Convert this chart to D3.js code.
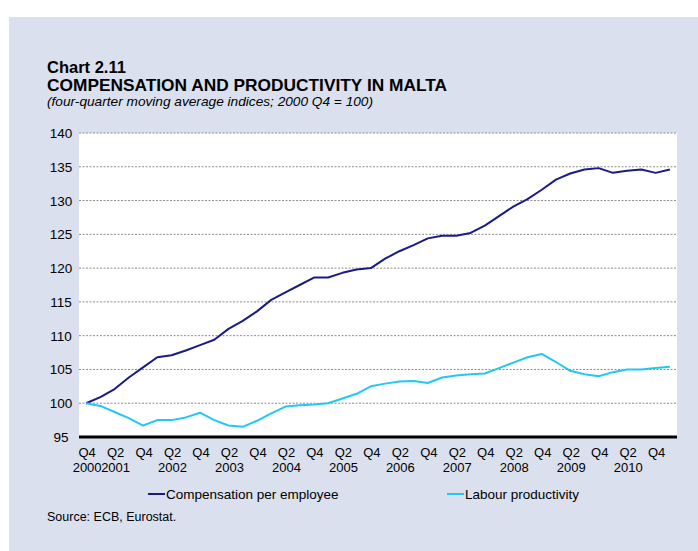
<!DOCTYPE html>
<html>
<head>
<meta charset="utf-8">
<script src="https://cdn.jsdelivr.net/npm/d3@7"></script>
<style>
  html, body { margin: 0; padding: 0; background: #ffffff; }
  svg { display: block; font-family: "Liberation Sans", Arial, sans-serif; }
</style>
</head>
<body>
<svg id="chart" width="698" height="551"></svg>
<script>
// quarters 2000 Q4 .. 2011 Q1
const quarters = [
  "2000Q4",
  "2001Q1", "2001Q2", "2001Q3", "2001Q4",
  "2002Q1", "2002Q2", "2002Q3", "2002Q4",
  "2003Q1", "2003Q2", "2003Q3", "2003Q4",
  "2004Q1", "2004Q2", "2004Q3", "2004Q4",
  "2005Q1", "2005Q2", "2005Q3", "2005Q4",
  "2006Q1", "2006Q2", "2006Q3", "2006Q4",
  "2007Q1", "2007Q2", "2007Q3", "2007Q4",
  "2008Q1", "2008Q2", "2008Q3", "2008Q4",
  "2009Q1", "2009Q2", "2009Q3", "2009Q4",
  "2010Q1", "2010Q2", "2010Q3", "2010Q4",
  "2011Q1"
];

const compensation = [
  100.0, 100.9, 102.1, 103.8, 105.3, 106.8, 107.1, 107.8, 108.6, 109.4,
  111.0, 112.2, 113.6, 115.3, 116.4, 117.5, 118.6, 118.6, 119.3, 119.8,
  120.0, 121.4, 122.5, 123.4, 124.4, 124.8, 124.8, 125.2, 126.3, 127.7,
  129.1, 130.2, 131.6, 133.1, 134.0, 134.6, 134.8, 134.1, 134.4, 134.6,
  134.1, 134.6
];

const productivity = [
  100.0, 99.6, 98.7, 97.8, 96.7, 97.5, 97.5, 97.9, 98.6, 97.5,
  96.7, 96.5, 97.4, 98.5, 99.5, 99.7, 99.8, 100.0, 100.7, 101.4,
  102.5, 102.9, 103.2, 103.3, 103.0, 103.8, 104.1, 104.3, 104.4, 105.2,
  106.0, 106.8, 107.3, 106.1, 104.8, 104.3, 104.0, 104.6, 105.0, 105.0,
  105.2, 105.4
];

const yTicks = [95, 100, 105, 110, 115, 120, 125, 130, 135, 140];

// x tick labels: quarter label + year label (shown under every other quarter)
const xTickQuarters = [
  "2000Q4", "2001Q2", "2001Q4", "2002Q2", "2002Q4", "2003Q2", "2003Q4",
  "2004Q2", "2004Q4", "2005Q2", "2005Q4", "2006Q2", "2006Q4", "2007Q2",
  "2007Q4", "2008Q2", "2008Q4", "2009Q2", "2009Q4", "2010Q2", "2010Q4"
];
const xTickYears = {
  "2000Q4": "2000", "2001Q2": "2001", "2002Q2": "2002", "2003Q2": "2003",
  "2004Q2": "2004", "2005Q2": "2005", "2006Q2": "2006", "2007Q2": "2007",
  "2008Q2": "2008", "2009Q2": "2009", "2010Q2": "2010"
};

const seriesNames = ["Compensation per employee", "Labour productivity"];
const seriesColors = ["#1b1b87", "#22c8f2"];

class MaltaChart {
  constructor() {
    this.width = 698;
    this.height = 551;
    this.bgColor = "#dae0ed";
    this.plot = { left: 79, right: 677, top: 133, bottom: 437 };
  }

  draw() {
    const svg = d3.select("#chart");
    const p = this.plot;

    // panel
    svg.append("rect")
      .attr("x", 9).attr("y", 17)
      .attr("width", this.width - 9).attr("height", this.height - 17)
      .attr("fill", this.bgColor);

    // titles
    svg.append("text").attr("x", 47).attr("y", 73)
      .attr("font-size", 16.5).attr("font-weight", "bold").attr("fill", "#000")
      .text("Chart 2.11");
    svg.append("text").attr("x", 47).attr("y", 91)
      .attr("font-size", 16.5).attr("font-weight", "bold").attr("fill", "#000")
      .attr("textLength", 400).attr("lengthAdjust", "spacingAndGlyphs")
      .text("COMPENSATION AND PRODUCTIVITY IN MALTA");
    svg.append("text").attr("x", 47).attr("y", 106)
      .attr("font-size", 13.5).attr("font-style", "italic").attr("fill", "#000")
      .attr("textLength", 326).attr("lengthAdjust", "spacingAndGlyphs")
      .text("(four-quarter moving average indices; 2000 Q4 = 100)");

    // plot area
    svg.append("rect")
      .attr("x", p.left).attr("y", p.top)
      .attr("width", p.right - p.left).attr("height", p.bottom - p.top)
      .attr("fill", "#ffffff");

    const x = d3.scaleBand().domain(quarters).range([p.left, p.right]);
    const y = d3.scaleLinear().domain([95, 140]).range([p.bottom, p.top]);
    const cx = (q) => x(q) + x.bandwidth() / 2;

    // gridlines
    svg.append("g")
      .selectAll("line")
      .data(yTicks.filter((t) => t > 95))
      .enter().append("line")
      .attr("x1", p.left).attr("x2", p.right)
      .attr("y1", (d) => y(d)).attr("y2", (d) => y(d))
      .attr("stroke", "#8c8c8c").attr("stroke-width", 1)
      .attr("stroke-dasharray", "2,1.5");

    // y labels (centred)
    svg.append("g")
      .selectAll("text")
      .data(yTicks)
      .enter().append("text")
      .attr("x", 61).attr("y", (d) => y(d) + 5)
      .attr("text-anchor", "middle")
      .attr("font-size", 13.5).attr("fill", "#000")
      .text((d) => d);

    // lines
    const line = d3.line()
      .x((d, i) => cx(quarters[i]))
      .y((d) => y(d));
    [compensation, productivity].forEach((values, k) => {
      svg.append("path")
        .datum(values)
        .attr("d", line)
        .attr("fill", "none")
        .attr("stroke", seriesColors[k])
        .attr("stroke-width", 2)
        .attr("stroke-linejoin", "round");
    });

    // x axis line
    svg.append("line")
      .attr("x1", p.left).attr("x2", p.right)
      .attr("y1", y(95)).attr("y2", y(95))
      .attr("stroke", "#000").attr("stroke-width", 3);

    // x labels
    const xg = svg.append("g");
    xg.selectAll("text.q")
      .data(xTickQuarters)
      .enter().append("text")
      .attr("class", "q")
      .attr("x", (d) => cx(d) + 1).attr("y", 457)
      .attr("text-anchor", "middle")
      .attr("font-size", 13).attr("fill", "#000")
      .text((d) => d.slice(4));
    xg.selectAll("text.yr")
      .data(xTickQuarters.filter((d) => xTickYears[d]))
      .enter().append("text")
      .attr("class", "yr")
      .attr("x", (d) => cx(d) + 1).attr("y", 472)
      .attr("text-anchor", "middle")
      .attr("font-size", 13).attr("fill", "#000")
      .text((d) => xTickYears[d]);

    // legend
    const legendX = [148, 447];
    seriesNames.forEach((name, k) => {
      svg.append("line")
        .attr("x1", legendX[k]).attr("x2", legendX[k] + 17)
        .attr("y1", 494).attr("y2", 494)
        .attr("stroke", seriesColors[k]).attr("stroke-width", 2);
      svg.append("text")
        .attr("x", legendX[k] + 18).attr("y", 499)
        .attr("font-size", 13.5).attr("fill", "#000")
        .text(name);
    });

    // source
    svg.append("text").attr("x", 47).attr("y", 521)
      .attr("font-size", 12.5).attr("fill", "#000")
      .text("Source: ECB, Eurostat.");
  }
}

const chart = new MaltaChart();
chart.draw();
</script>
</body>
</html>
